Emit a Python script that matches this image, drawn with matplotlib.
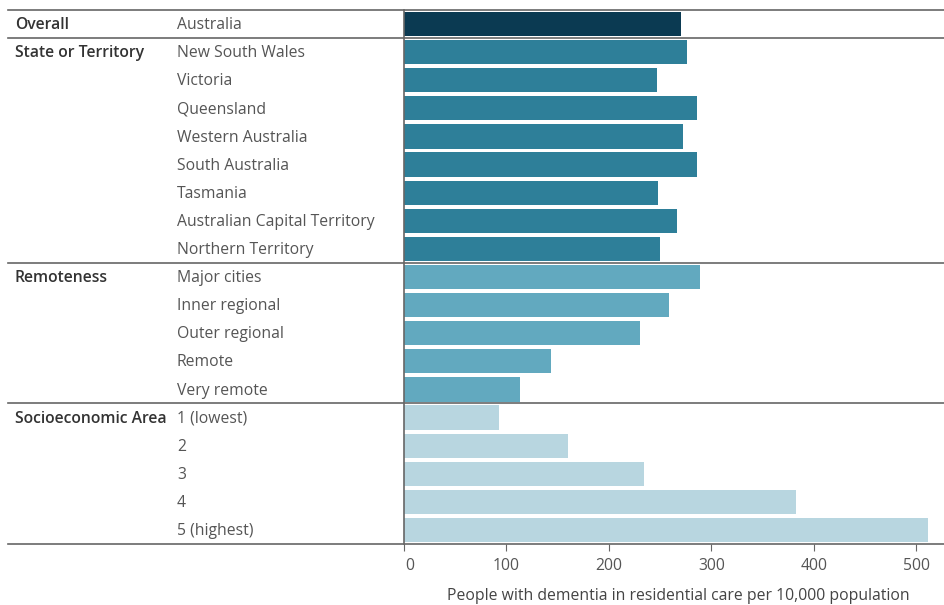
import numpy as np
import matplotlib.pyplot as plt
import matplotlib.transforms as mtransforms

groups = ["Overall", "State or Territory", "Remoteness", "Socioeconomic Area"]
categories = [
    ["Australia"],
    ["New South Wales", "Victoria", "Queensland", "Western Australia",
     "South Australia", "Tasmania", "Australian Capital Territory", "Northern Territory"],
    ["Major cities", "Inner regional", "Outer regional", "Remote", "Very remote"],
    ["1 (lowest)", "2", "3", "4", "5 (highest)"],
]
values = [
    [270],
    [276, 247, 286, 272, 286, 248, 266, 250],
    [289, 259, 230, 143, 113],
    [93, 160, 234, 383, 511],
]
colors = ["#0b3a52", "#2e7f99", "#62a9bf", "#b8d6e0"]

plt.rcParams['font.family'] = ['Open Sans', 'DejaVu Sans']
fs = 11.3

fig = plt.figure(figsize=(9.44, 6.05), dpi=100)
ax = fig.add_axes([404 / 944, 1 - 544 / 605, 1 - 404 / 944, 534 / 605])

n = sum(len(c) for c in categories)
trans = mtransforms.blended_transform_factory(fig.transFigure, ax.transData)

row = 0
seps = [-0.5]
for g, cats, vals, col in zip(groups, categories, values, colors):
    y = np.arange(row, row + len(cats))
    ax.barh(y, vals, height=0.86, color=col)
    ax.text(15 / 944, row + 0.04, g, transform=trans, va='center', ha='left',
            fontsize=fs, fontweight='semibold', color='#333333')
    for yi, c in zip(y, cats):
        ax.text(177 / 944, yi + 0.04, c, transform=trans, va='center', ha='left',
                fontsize=fs, color='#555555')
    row += len(cats)
    seps.append(row - 0.5)

for s in seps:
    ax.plot([8 / 944, 1], [s, s], transform=trans, color='#666666',
            lw=1.2, clip_on=False)

ax.set_ylim(n - 0.5, -0.5)
ax.set_xlim(0, 527)
ax.set_yticks([])
ax.set_xticks([0, 100, 200, 300, 400, 500])
ax.set_xticklabels(["0", "100", "200", "300", "400", "500"])
ax.tick_params(axis='x', length=5, color='#666666', labelcolor='#555555',
               labelsize=fs, pad=5)
shift = mtransforms.ScaledTranslation(6 / 100, 0, fig.dpi_scale_trans)
first = ax.get_xticklabels()[0]
first.set_transform(first.get_transform() + shift)
for sp in ['top', 'right', 'bottom']:
    ax.spines[sp].set_visible(False)
ax.spines['left'].set_color('#666666')
ax.spines['left'].set_linewidth(1.2)
ax.set_xlabel("People with dementia in residential care per 10,000 population",
              fontsize=fs, color='#444444')
ax.xaxis.set_label_coords(0.508, -0.082)

fig.savefig("out.png", dpi=100)
